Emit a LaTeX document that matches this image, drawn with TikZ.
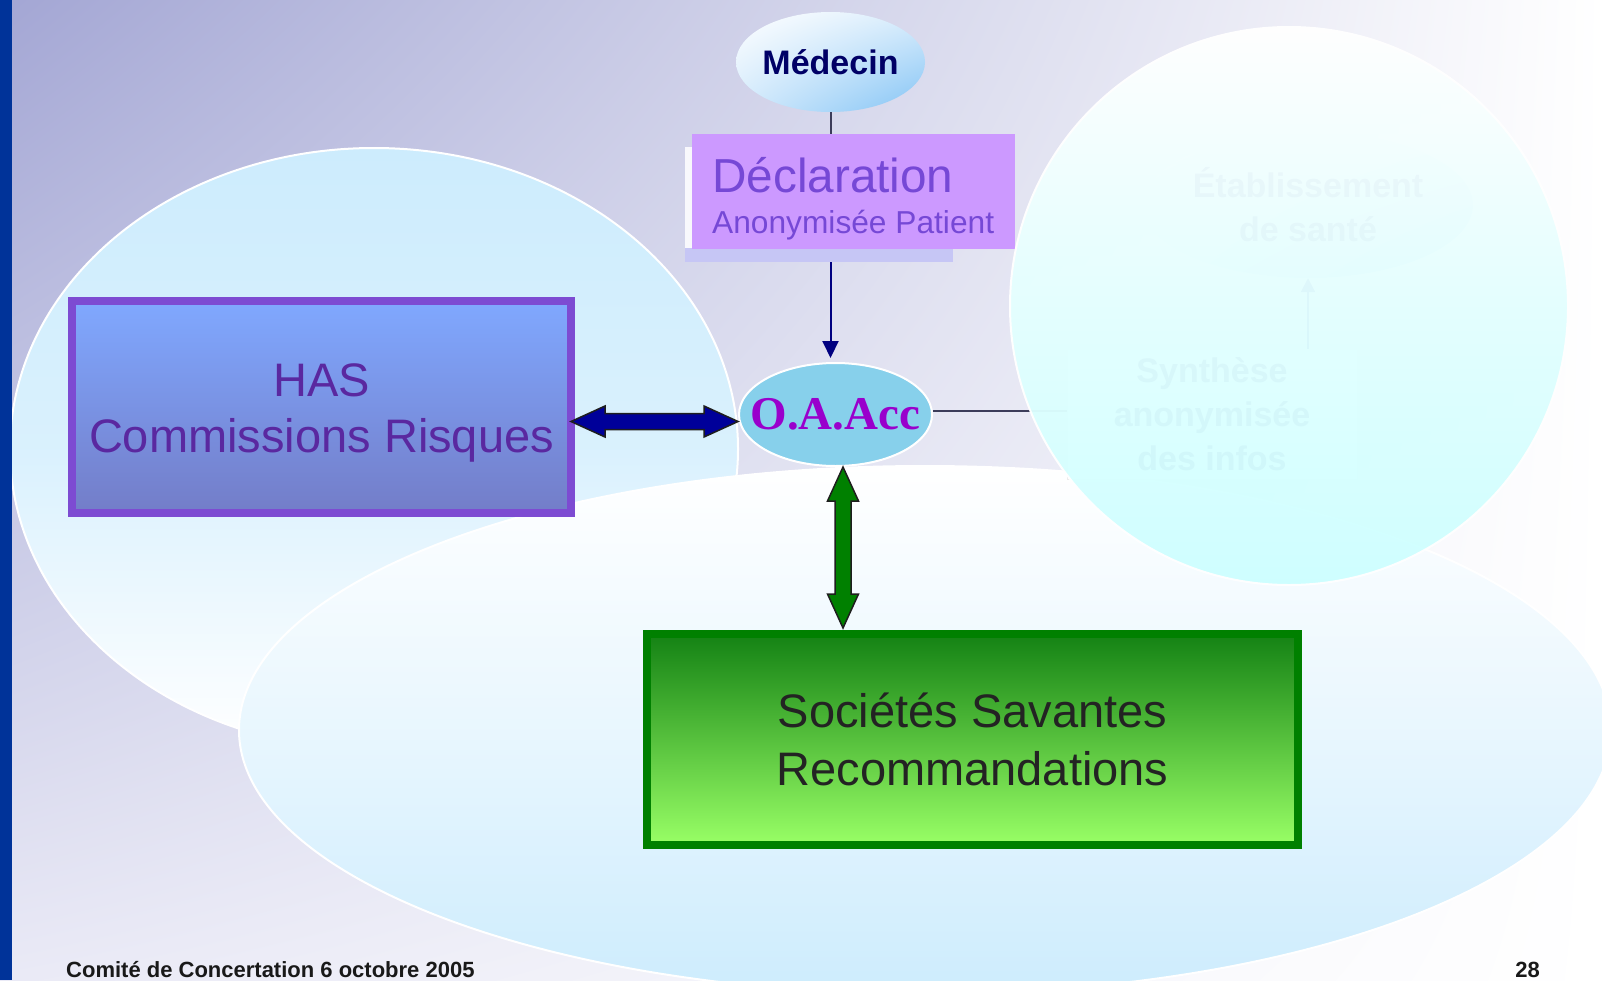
\documentclass[tikz,border=0pt]{standalone}
\usepackage{fontspec}
\setmainfont{Liberation Sans}
\newfontfamily\serifbold{Liberation Serif}
\usetikzlibrary{arrows.meta, shapes.geometric, calc, shadings}

\definecolor{barblue}{RGB}{0,51,153}
\definecolor{bglav}{RGB}{163,166,212}
\definecolor{bglow}{RGB}{234,234,246}
\definecolor{paleblue}{RGB}{205,236,253}
\definecolor{palecyan}{RGB}{205,255,255}
\definecolor{medblue}{RGB}{130,195,245}
\definecolor{medtext}{RGB}{0,0,102}
\definecolor{declfill}{RGB}{204,153,255}
\definecolor{declshade}{RGB}{198,198,245}
\definecolor{decltext}{RGB}{118,72,214}
\definecolor{oaafill}{RGB}{135,208,235}
\definecolor{oaatext}{RGB}{153,0,204}
\definecolor{hasborder}{RGB}{125,75,210}
\definecolor{hastop}{RGB}{128,168,255}
\definecolor{hasbot}{RGB}{115,125,200}
\definecolor{hastext}{RGB}{90,40,160}
\definecolor{socborder}{RGB}{0,128,0}
\definecolor{soctop}{RGB}{20,130,20}
\definecolor{socbot}{RGB}{153,255,102}
\definecolor{soctext}{RGB}{35,35,35}
\definecolor{arrowblue}{RGB}{0,0,153}
\definecolor{arrowgreen}{RGB}{0,128,0}
\definecolor{linenavy}{RGB}{0,0,128}
\definecolor{linegrey}{RGB}{60,60,90}

\tikzset{
  bubble/.style={draw=white, line width=2pt},
  oval/.style={ellipse, inner sep=0pt},
  bigbox/.style={rectangle, line width=8pt, outer sep=0pt, inner sep=0pt},
  bigtext/.style={font=\fontsize{47}{56}\selectfont, inner sep=0pt},
  blockarrow/.style={draw={rgb,255:red,30;green,30;blue,30}, line width=1.5pt, line join=miter},
  conn/.style={line width=2pt},
}

% block double arrows: left/right end, top/bottom end, fill colour
\newcommand{\blockarrowh}[3]{%
  \draw[blockarrow, fill=#3] (#1) -- ($(#1)+(34,-15.5)$) -- ($(#1)+(34,-8)$)
    -- ($(#2)+(-34,-8)$) -- ($(#2)+(-34,-15.5)$) -- (#2)
    -- ($(#2)+(-34,15.5)$) -- ($(#2)+(-34,8)$) -- ($(#1)+(34,8)$)
    -- ($(#1)+(34,15.5)$) -- cycle;}
\newcommand{\blockarrowv}[3]{%
  \draw[blockarrow, fill=#3] (#1) -- ($(#1)+(15.5,34)$) -- ($(#1)+(8,34)$)
    -- ($(#2)+(8,-34)$) -- ($(#2)+(15.5,-34)$) -- (#2)
    -- ($(#2)+(-15.5,-34)$) -- ($(#2)+(-8,-34)$) -- ($(#1)+(-8,34)$)
    -- ($(#1)+(-15.5,34)$) -- cycle;}

\begin{document}
\begin{tikzpicture}[x=1pt, y=-1pt]
    % slide background
    \useasboundingbox (0,0) rectangle (1602,980);
    \clip (0,0) rectangle (1602,980);
    \shade[upper left=bglav, upper right=white, lower left=bglow, lower right=white] (0,0) rectangle (1602,980);
    \shadedraw[bubble, top color=paleblue, bottom color=white, middle color=paleblue!75!white] (374,449) ellipse [x radius=364pt, y radius=301pt];
    \shadedraw[bubble, top color=white, bottom color=paleblue, middle color=paleblue!45!white] (925,730) ellipse [x radius=686pt, y radius=264pt];
    \fill[barblue] (0,0) rectangle (12,980);

    % declaration chain
    \node[oval, minimum width=189pt, minimum height=100pt, upper left=white, upper right=medblue!30!white, lower left=medblue!35!white, lower right=medblue, text=medtext, font=\fontsize{34}{40}\selectfont\bfseries] (medecin) at (830.5,62) {\makebox[0pt]{Médecin}};
    \node[rectangle, fill=declshade, minimum width=268pt, minimum height=115pt, inner sep=0pt, outer sep=0pt] (declshadow) at (819,204.5) {};
    \fill[white!92!bglav] (declshadow.north west) rectangle ($(declshadow.north west)+(7,101)$);
    \node[rectangle, fill=declfill, minimum width=323pt, minimum height=115pt, inner sep=0pt, outer sep=0pt] (decl) at (853.5,191.5) {};
    \node[anchor=base west, inner sep=0pt, text=decltext, font=\fontsize{47.7}{50}\selectfont] (decltitle) at (712,192) {Déclaration};
    \node[anchor=base west, inner sep=0pt, text=decltext, font=\fontsize{31.7}{36}\selectfont] (declsub) at (712,233) {Anonymisée Patient};
    \node[oval, bubble, fill=oaafill, minimum width=193pt, minimum height=103pt, text=oaatext, font=\fontsize{47}{50}\serifbold\bfseries] (oaacc) at (835.5,414.5) {\makebox[0pt]{O.A.Acc}};

    \draw[conn, linegrey] (medecin.south) -- (medecin.south |- decl.north);
    \draw[conn, linenavy, shorten >=4pt, -{Triangle[width=16pt, length=17pt]}] (medecin.south |- declshadow.south) -- (medecin.south |- oaacc.north);

    % right bubble (almost hidden content)
    \node[oval, minimum width=330pt, minimum height=146pt, upper left=white, upper right=medblue!30!white, lower left=medblue!35!white, lower right=medblue, text=medtext, align=center, font=\fontsize{34}{44}\selectfont\bfseries] (etab) at (1308,205) {Établissement\\de santé};
    \node[rectangle, draw=white!85!gray, fill=white, minimum width=290pt, minimum height=130pt, text=medtext, align=center, font=\fontsize{34}{44}\selectfont\bfseries] (synth) at (1212,414) {Synthèse\\anonymisée\\des infos};
    \draw[conn, linenavy, -{Triangle[width=14pt, length=14pt]}] (synth.north -| etab.south) -- (etab.south);
    \draw[conn, linegrey] ([yshift=3.5pt]oaacc.east) -- ([yshift=3.5pt]oaacc.east -| synth.west);
    \shadedraw[bubble, top color=white, bottom color=palecyan, middle color=palecyan!55!white, opacity=0.97] (1289,306) circle [radius=279pt];

    % HAS
    \node[bigbox, draw=hasborder, top color=hastop, bottom color=hasbot, minimum width=499pt, minimum height=212pt] (has) at (321.5,407) {};
    \node[bigtext, anchor=base, text=hastext] (hasname) at (321.5,396) {HAS};
    \node[bigtext, anchor=base, text=hastext] (hasrole) at (321.5,452) {Commissions Risques};

    % societes savantes
    \node[bigbox, draw=socborder, top color=soctop, bottom color=socbot, minimum width=651pt, minimum height=211pt] (soc) at (972.5,739.5) {};
    \node[bigtext, anchor=base, text=soctext] (socname) at (972.5,727) {Sociétés Savantes};
    \node[bigtext, anchor=base, text=soctext] (socrole) at (972.5,785) {Recommandations};

    \coordinate (hasarrowL) at ([yshift=-14.5pt]has.east);
    \coordinate (hasarrowR) at (oaacc.west |- hasarrowL);
    \blockarrowh{hasarrowL}{hasarrowR}{arrowblue}
    \coordinate (socarrowT) at ([xshift=7.5pt]oaacc.south);
    \coordinate (socarrowB) at ($(socarrowT |- soc.north)+(0,-6)$);
    \blockarrowv{socarrowT}{socarrowB}{arrowgreen}

    % footer
    \node[anchor=base west, inner sep=0pt, text=black!90, font=\fontsize{22}{26}\selectfont\bfseries] (footer) at (66,977) {Comité de Concertation 6 octobre 2005};
    \node[anchor=base east, inner sep=0pt, text=black!90, font=\fontsize{22}{26}\selectfont\bfseries] (pagenum) at (1540,977) {28};
\end{tikzpicture}
\end{document}
